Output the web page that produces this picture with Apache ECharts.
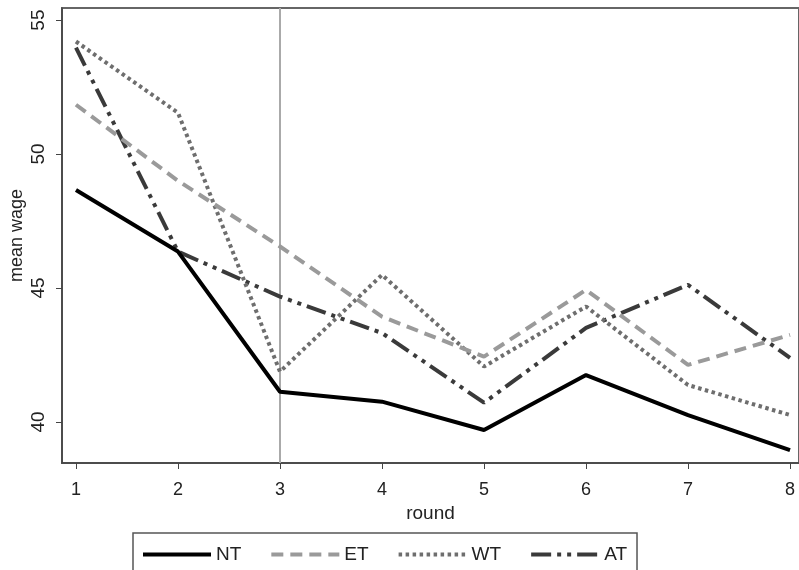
<!DOCTYPE html>
<html>
<head>
<meta charset="utf-8">
<script src="https://cdn.jsdelivr.net/npm/echarts@6/dist/echarts.min.js"></script>
<style>html,body{margin:0;padding:0;background:#fff}#c{width:799px;height:570px}</style>
</head>
<body>
<div id="c"></div>
<script>
const rounds = [1, 2, 3, 4, 5, 6, 7, 8];
const seriesNames = ['NT', 'ET', 'WT', 'AT'];
const NT = [48.66, 46.36, 41.13, 40.76, 39.70, 41.75, 40.26, 38.95];
const ET = [51.84, 49.0, 46.55, 43.93, 42.44, 44.93, 42.13, 43.25];
const WT = [54.2, 51.54, 41.88, 45.49, 42.07, 44.31, 41.38, 40.26];
const AT = [53.97, 46.36, 44.68, 43.32, 40.72, 43.51, 45.12, 42.39];
const yTicks = [40, 45, 50, 55];
const markRound = 3;

const font = 'Liberation Sans, Arial, sans-serif';
function pts(arr){ return rounds.map((r,i)=>[r, arr[i]]); }
const styles = {
  NT: {color:'#000000', width:4, type:'solid'},
  ET: {color:'#9a9a9a', width:4, type:[12,7]},
  WT: {color:'#6e6e6e', width:4, type:[3.5,3.5]},
  AT: {color:'#3a3a3a', width:4, type:[20,6,4,6,4,6]}
};
const dataMap = {NT, ET, WT, AT};
const series = seriesNames.map((n, idx) => {
  const s = {
    name: n, type: 'line', data: pts(dataMap[n]), symbol: 'none',
    lineStyle: styles[n], itemStyle: {color: styles[n].color},
    z: 10 - idx, animation: false
  };
  if (idx === 0) {
    s.markLine = {
      silent: true, symbol: 'none', label: {show:false},
      lineStyle: {color:'#aaaaaa', width:2, type:'solid'},
      data: [{xAxis: markRound}], animation: false
    };
  }
  return s;
});

const chart = echarts.init(document.getElementById('c'), null, {renderer:'canvas'});
chart.setOption({
  animation: false,
  backgroundColor: '#ffffff',
  grid: {left: 62, right: 0, top: 8, bottom: 107, show: true, borderColor: '#666', borderWidth: 2,
         containLabel: false, outerBoundsMode: 'none'},
  xAxis: {
    type: 'value', min: 0.863, max: 8.088,
    name: 'round', nameLocation: 'middle', nameGap: 41, nameMoveOverlap: false,
    nameTextStyle: {fontFamily: font, fontSize: 19, color: '#222'},
    axisLine: {show: true, lineStyle: {color:'#444', width:1.5}},
    axisTick: {show: true, length: 6, customValues: rounds, lineStyle:{color:'#444'}},
    axisLabel: {customValues: rounds, margin: 18, fontFamily: font, fontSize: 18, color: '#222'},
    splitLine: {show: false}
  },
  yAxis: {
    type: 'value', min: 38.47, max: 55.45,
    name: 'mean wage', nameLocation: 'middle', nameGap: 36, nameMoveOverlap: false,
    nameTextStyle: {fontFamily: font, fontSize: 18, color: '#222'},
    axisLine: {show: true, lineStyle: {color:'#444', width:1.5}},
    axisTick: {show: true, length: 6, customValues: yTicks, lineStyle:{color:'#444'}},
    axisLabel: {customValues: yTicks, rotate: 90, margin: 14, fontFamily: font, fontSize: 19, color: '#222'},
    splitLine: {show: false}
  },
  legend: {
    data: seriesNames.map(n => ({name: n, lineStyle: {width: 4}, itemStyle: {opacity: 0}})),
    left: 133, top: 533, orient: 'horizontal',
    itemWidth: 68, itemHeight: 14, itemGap: 28,
    padding: [12, 10, 20, 8],
    borderColor: '#555', borderWidth: 1.5,
    itemStyle: {opacity: 0},
    textStyle: {fontFamily: font, fontSize: 19, color: '#222'}
  },
  series: series
});
</script>
</body>
</html>
